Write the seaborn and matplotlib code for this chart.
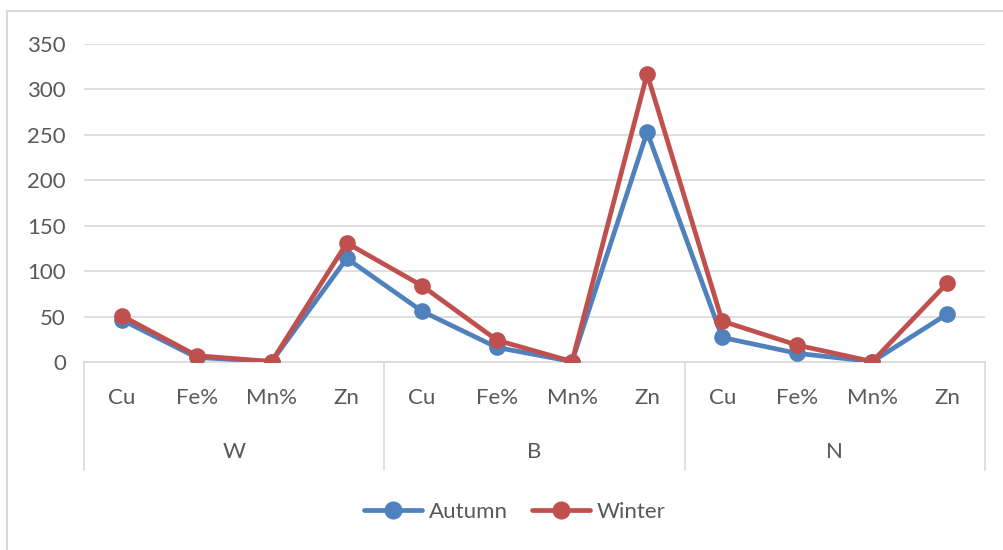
import matplotlib
matplotlib.use("Agg")
import matplotlib.pyplot as plt
import seaborn as sns
import pandas as pd
from matplotlib.patches import Rectangle

# data
groups = ["W", "B", "N"]
elements = ["Cu", "Fe%", "Mn%", "Zn"]
autumn = [46.5, 5, 0.5, 114, 56, 16, 0.5, 253, 27, 9.5, 0.5, 53]
winter = [51, 7, 0.5, 131, 84, 24, 0.5, 317, 45, 18.5, 0.5, 87]

labels = [e for g in groups for e in elements]
pos = list(range(len(labels)))
df = pd.DataFrame({
    "pos": pos * 2,
    "value": autumn + winter,
    "season": ["Autumn"] * len(pos) + ["Winter"] * len(pos),
})

sns.set_theme(style="white")
plt.rcParams["font.family"] = ["Lato", "DejaVu Sans"]
text_color = "#595959"
grid_color = "#D9D9D9"
fs = 16

fig = plt.figure(figsize=(10.04, 5.5), dpi=100)
ax = fig.add_axes([84 / 1004, 188 / 550, (985 - 84) / 1004, 318 / 550])

sns.lineplot(data=df, x="pos", y="value", hue="season", sort=False,
             palette={"Autumn": "#4F81BD", "Winter": "#C0504D"},
             marker="o", markersize=12, markeredgewidth=0, linewidth=3.4,
             legend=False, ax=ax, zorder=3)

ax.set_xlim(-0.5, len(labels) - 0.5)
ax.set_ylim(0, 350)
ax.set_yticks(range(0, 351, 50))
ax.yaxis.grid(True, color=grid_color, linewidth=1.2)
ax.set_axisbelow(True)
for side in ["top", "right", "left"]:
    ax.spines[side].set_visible(False)
ax.spines["bottom"].set_color(grid_color)
ax.spines["bottom"].set_linewidth(1.2)
ax.tick_params(axis="y", length=0, pad=13, labelsize=fs, labelcolor=text_color)
ax.set_xticks([])
ax.set_xlabel("")
ax.set_ylabel("")

# two-level category axis
trans = ax.get_xaxis_transform()
for i, lab in enumerate(labels):
    ax.text(i, -0.113, lab, transform=trans, ha="center", va="center",
            fontsize=fs, color=text_color)
for k, g in enumerate(groups):
    ax.text(k * 4 + 1.5, -0.283, g, transform=trans, ha="center", va="center",
            fontsize=fs, color=text_color)
for k in range(len(groups) + 1):
    ax.plot([k * 4 - 0.5] * 2, [0, -0.34], transform=trans, color=grid_color,
            linewidth=1.2, clip_on=False)

# legend
handles = [plt.Line2D([], [], color=c, linewidth=3.4, marker="o", markersize=12)
           for c in ["#4F81BD", "#C0504D"]]
fig.legend(handles, ["Autumn", "Winter"], loc="center", ncol=2,
           bbox_to_anchor=(515 / 1004, 1 - 512 / 550), frameon=False,
           fontsize=fs, labelcolor=text_color, handlelength=2.6,
           handletextpad=0.3, columnspacing=1.1)

# chart border
fig.patches.append(Rectangle((7 / 1004, -0.01), 1.1, 1 - 11 / 550 + 0.01,
                             transform=fig.transFigure, fill=False,
                             edgecolor="#D9D9D9", linewidth=1.5))

plt.savefig("out.png", dpi=100)
plt.close()
